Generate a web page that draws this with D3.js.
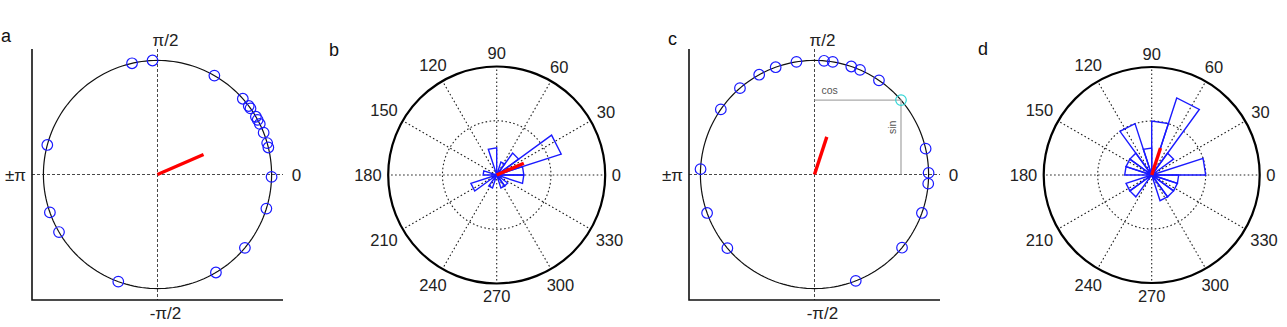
<!DOCTYPE html>
<html><head><meta charset="utf-8">
<script src="https://cdn.jsdelivr.net/npm/d3@7"></script>
<style>
body{margin:0;background:#fff}
svg{display:block}
text{font-family:"Liberation Sans",Arial,Helvetica,sans-serif}
</style></head>
<body>
<svg id="fig" width="1287" height="327"></svg>
<script>
// ---------- data (degrees) ----------
const anglesA = [102.9, 92.5, 60.1, 41.6, 36.9, 35.4, 30.4, 28.6, 26.3, 21.5, 16.0, 13.7, -1.2, 165.0, -160.6, -149.7, -110.1, -59.2, -40.0, -17.4];
const anglesC = [99.1, 85.2, 80.8, 71.2, 66.5, 55.6, 109.9, 119.0, 130.8, 145.2, 177.3, -160.3, -139.8, -68.8, -39.9, -19.7, -4.6, 0.8, 13.1];
const highlightC = [40.7];
const meanAngles = [23.5, 71.9];          // panel a, panel c
const meanLengths = [0.44, 0.347];        // resultant length (unit circle)
const roseBinWidth = 18;
const roseCountsB = [2, 5, 2, 1, 0, 2, 0, 0, 0, 1, 0, 2, 0, 1, 0, 0, 1, 1, 0, 2];
const roseCountsD = [2, 0, 1, 3, 2, 1, 2, 1, 1, 1, 0, 1, 1, 0, 0, 0, 1, 1, 1, 1];
const roseMaxB = [4, 8];                  // inner ring, outer ring
const roseMaxD = [2, 4];
const roseMeanB = [23.5, 2.18];           // angle, length in counts
const roseMeanD = [71.9, 1.05];
const polarTicks = [0, 30, 60, 90, 120, 150, 180, 210, 240, 270, 300, 330];
const axisLabels = ["0", "\u03c0/2", "\u00b1\u03c0", "-\u03c0/2"];
const panelLetters = ["a", "b", "c", "d"];

const svg = d3.select("#fig");
const rad = d => d * Math.PI / 180;

// ---------- unit-circle panels (a, c) ----------
function circlePanel(x0, x1, angles, hi, mIdx, letter, showTrig) {
  const x = d3.scaleLinear().domain([-1.1, 1.1]).range([x0, x1]);
  const y = d3.scaleLinear().domain([-1.1, 1.1]).range([300, 49]);
  const g = svg.append("g");
  g.append("line").attr("x1", x(-1.1)).attr("x2", x(1.1)).attr("y1", y(0)).attr("y2", y(0))
    .attr("stroke", "#333").attr("stroke-width", 0.9).attr("stroke-dasharray", "3,2");
  g.append("line").attr("x1", x(0)).attr("x2", x(0)).attr("y1", y(1.1)).attr("y2", y(-1.1))
    .attr("stroke", "#333").attr("stroke-width", 0.9).attr("stroke-dasharray", "3,2");
  g.append("path").attr("d", `M${x(-1.1)},${y(1.1)}V${y(-1.1)}H${x(1.1)}`)
    .attr("fill", "none").attr("stroke", "#111").attr("stroke-width", 1.6);
  const ring = d3.range(0, 361, 2);
  g.append("path").datum(ring)
    .attr("d", d3.line().x(t => x(Math.cos(rad(t)))).y(t => y(Math.sin(rad(t)))))
    .attr("fill", "none").attr("stroke", "#111").attr("stroke-width", 1.2);
  if (showTrig) {
    const t = rad(hi[0]);
    g.append("path").attr("d", `M${x(0)},${y(Math.sin(t))}H${x(Math.cos(t))}V${y(0)}`)
      .attr("fill", "none").attr("stroke", "#aaa").attr("stroke-width", 1.3);
    g.append("text").attr("x", x(0) + 7).attr("y", y(Math.sin(t)) - 6)
      .attr("font-size", 10.5).attr("fill", "#555").text("cos");
    g.append("text").attr("transform", `translate(${x(Math.cos(t)) - 5},${y(Math.sin(t) / 2) - 10}) rotate(-90)`)
      .attr("text-anchor", "middle").attr("font-size", 10.5).attr("fill", "#555").text("sin");
  }
  g.selectAll("circle.pt").data(angles).join("circle").attr("class", "pt")
    .attr("cx", d => x(Math.cos(rad(d)))).attr("cy", d => y(Math.sin(rad(d))))
    .attr("r", 5.3).attr("fill", "none").attr("stroke", "#1a1aff").attr("stroke-width", 1.2);
  g.selectAll("circle.hi").data(hi).join("circle").attr("class", "hi")
    .attr("cx", d => x(Math.cos(rad(d)))).attr("cy", d => y(Math.sin(rad(d))))
    .attr("r", 5.3).attr("fill", "none").attr("stroke", "#33d6d6").attr("stroke-width", 1.2);
  const ma = rad(meanAngles[mIdx]), ml = meanLengths[mIdx];
  g.append("line").attr("x1", x(0)).attr("y1", y(0))
    .attr("x2", x(ml * Math.cos(ma))).attr("y2", y(ml * Math.sin(ma)))
    .attr("stroke", "#f00").attr("stroke-width", 3.4);
  const lab = g.append("g").attr("font-size", 17).attr("fill", "#222");
  lab.append("text").attr("x", x(0) + 139).attr("y", y(0)).attr("dy", "0.36em").attr("text-anchor", "middle").text(axisLabels[0]);
  lab.append("text").attr("x", x(0) + 8).attr("y", 46).attr("text-anchor", "middle").text(axisLabels[1]);
  lab.append("text").attr("x", x(0) - 142).attr("y", y(0)).attr("dy", "0.36em").attr("text-anchor", "middle").text(axisLabels[2]);
  lab.append("text").attr("x", x(0) + 8).attr("y", 319).attr("text-anchor", "middle").text(axisLabels[3]);
  return g;
}

circlePanel(32, 283, anglesA, [], 0);
circlePanel(689, 940, anglesC, highlightC, 1, "c", true);

// ---------- rose panels (b, d) ----------
function rosePanel(cx, cy, R, counts, rings, mean) {
  const r = d3.scaleLinear().domain([0, rings[1]]).range([0, R]);
  const g = svg.append("g").attr("transform", `translate(${cx},${cy})`);
  const px = (t, v) => r(v) * Math.cos(rad(t));
  const py = (t, v) => -r(v) * Math.sin(rad(t));
  g.selectAll("line.spoke").data(polarTicks).join("line").attr("class", "spoke")
    .attr("x1", 0).attr("y1", 0).attr("x2", d => px(d, rings[1])).attr("y2", d => py(d, rings[1]))
    .attr("stroke", "#222").attr("stroke-width", 1.1).attr("stroke-dasharray", "1.6,2.4");
  g.append("circle").attr("r", r(rings[0])).attr("fill", "none")
    .attr("stroke", "#222").attr("stroke-width", 1.1).attr("stroke-dasharray", "1.6,2.4");
  g.append("circle").attr("r", r(rings[1])).attr("fill", "none")
    .attr("stroke", "#000").attr("stroke-width", 2.2);
  const petals = counts.map((c, i) => ({t0: i * roseBinWidth, t1: (i + 1) * roseBinWidth, c})).filter(d => d.c > 0);
  g.selectAll("path.petal").data(petals).join("path").attr("class", "petal")
    .attr("d", d => `M0,0L${px(d.t0, d.c)},${py(d.t0, d.c)}L${px(d.t1, d.c)},${py(d.t1, d.c)}Z`)
    .attr("fill", "none").attr("stroke", "#1a1aff").attr("stroke-width", 1.4).attr("stroke-linejoin", "miter");
  g.append("line").attr("x1", 0).attr("y1", 0)
    .attr("x2", px(mean[0], mean[1])).attr("y2", py(mean[0], mean[1]))
    .attr("stroke", "#f00").attr("stroke-width", 3.4);
  const labs = g.selectAll("text.tl").data(polarTicks).join("text").attr("class", "tl")
    .attr("font-size", 16.5).attr("fill", "#222").attr("text-anchor", "middle").attr("dy", "0.36em")
    .text(d => d);
  labs.each(function (d) {
    const w = this.getComputedTextLength() / 2, h = 6.5;
    const rr = R * 1.06 + w * Math.abs(Math.cos(rad(d))) + h * Math.abs(Math.sin(rad(d)));
    d3.select(this).attr("x", rr * Math.cos(rad(d))).attr("y", -rr * Math.sin(rad(d)));
  });
}

rosePanel(496.7, 175, 108.5, roseCountsB, roseMaxB, roseMeanB);
rosePanel(1151.7, 175, 108, roseCountsD, roseMaxD, roseMeanD);

// ---------- panel letters ----------
const letterPos = [[1, 42], [329, 56], [668, 45], [978, 55]];
svg.selectAll("text.letter").data(panelLetters).join("text").attr("class", "letter")
  .attr("x", (d, i) => letterPos[i][0]).attr("y", (d, i) => letterPos[i][1])
  .attr("font-size", 18).attr("fill", "#111").text(d => d);
</script>
</body></html>
